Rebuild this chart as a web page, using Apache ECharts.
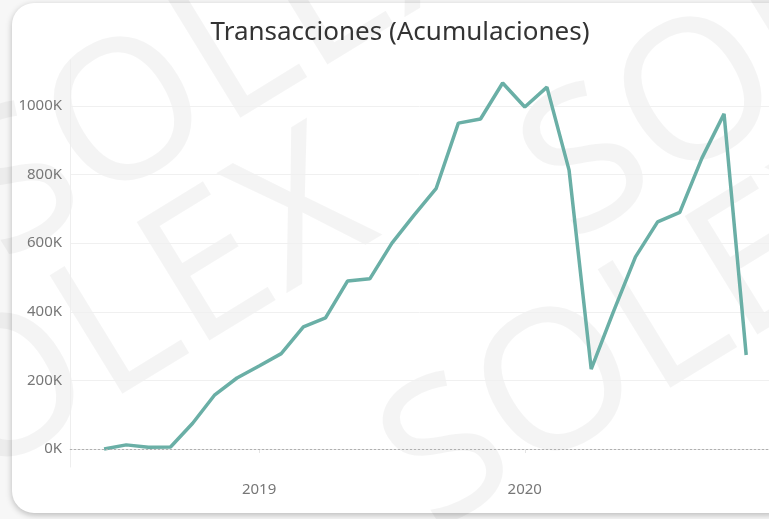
<!DOCTYPE html>
<html>
<head>
<meta charset="utf-8">
<script src="https://cdn.jsdelivr.net/npm/echarts@6/dist/echarts.min.js"></script>
<style>
  html, body { margin: 0; padding: 0; background: #f7f7f7; overflow: hidden; }
  #card {
    position: absolute; left: 12px; top: 3px; width: 780px; height: 510px;
    background: #fff; border-radius: 22px;
    box-shadow: 0 2px 6px rgba(0,0,0,0.25);
  }
  #main { position: absolute; left: 0; top: 0; width: 769px; height: 519px; }
</style>
</head>
<body>
<div id="card"></div>
<div id="main"></div>
<script>
// meses (jun 2018 - nov 2020)
var meses = ['2018-06','2018-07','2018-08','2018-09','2018-10','2018-11','2018-12',
  '2019-01','2019-02','2019-03','2019-04','2019-05','2019-06','2019-07','2019-08','2019-09','2019-10','2019-11','2019-12',
  '2020-01','2020-02','2020-03','2020-04','2020-05','2020-06','2020-07','2020-08','2020-09','2020-10','2020-11'];
// transacciones en miles
var valores = [0, 12, 5, 6, 75, 158, 207,
  242, 278, 356, 382, 490, 496, 600, 682, 760, 950, 962, 1067,
  997, 1055, 813, 233, 400, 560, 662, 690, 848, 977, 274];
var ticksY = [0, 200, 400, 600, 800, 1000];
var ticksX = [12, 24]; // ene 2019, ene 2020

function mesIndex(s) {//meses desde ene 2018
  var p = s.split('-');
  return (parseInt(p[0]) - 2018) * 12 + parseInt(p[1]) - 1;
}

var serie = [];
for (var i = 0; i < meses.length; i++) {
  serie.push([mesIndex(meses[i]), valores[i]]);
}

// marca de agua de fondo
function marca(x, y) {
  return {
    type: 'text', x: x, y: y, rotation: 0.55, z: -10, silent: true,
    style: {
      text: 'SOLEX', fill: 'rgba(0,0,0,0.045)',
      font: '195px "Noto Sans"', verticalAlign: 'middle'
    }
  };
}

var myChart = echarts.init(document.getElementById('main'));

var option = {
  animation: false,
  graphic: [marca(-144, 492), marca(-26, 216), marca(404, 486), marca(544, 196)],
  title: {
    text: 'Transacciones (Acumulaciones)',
    left: 395,
    top: 15,
    textAlign: 'center',
    textStyle: { fontFamily: 'Noto Sans', fontSize: 26, fontWeight: 'normal', color: '#333' }
  },
  grid: { left: 70, right: 0, top: 60, bottom: 52, containLabel: false },
  xAxis: {
    type: 'value',
    min: 3.46,
    max: 35.03,
    axisLine: { show: true, lineStyle: { color: '#e4e4e4' } },
    axisTick: { show: true, customValues: ticksX, length: 4, lineStyle: { color: '#e4e4e4' } },
    splitLine: { show: false },
    axisLabel: {
      customValues: ticksX,
      margin: 15,
      color: '#777',
      fontFamily: 'Noto Sans',
      fontSize: 15,
      formatter: function (v) { return String(2018 + Math.round(v / 12)); }
    }
  },
  yAxis: {
    type: 'value',
    min: -52.5,
    max: 1134,
    axisLine: { show: true, lineStyle: { color: '#eeeeee' } },
    axisTick: { show: false, customValues: ticksY },
    splitLine: { show: true, lineStyle: { color: '#f0f0f0' } },
    axisLabel: {
      customValues: ticksY,
      margin: 8,
      color: '#777',
      fontFamily: 'Noto Sans',
      fontSize: 15,
      formatter: function (v) { return v + 'K'; }
    }
  },
  series: [{
    type: 'line',
    data: serie,
    symbol: 'none',
    lineStyle: { color: '#6aafa6', width: 3.5 },
    markLine: {
      silent: true,
      symbol: 'none',
      label: { show: false },
      lineStyle: { color: '#b0b0b0', type: [2, 2], width: 1 },
      data: [{ yAxis: 0 }]
    },
    z: 3
  }]
};
myChart.setOption(option);
</script>
</body>
</html>
